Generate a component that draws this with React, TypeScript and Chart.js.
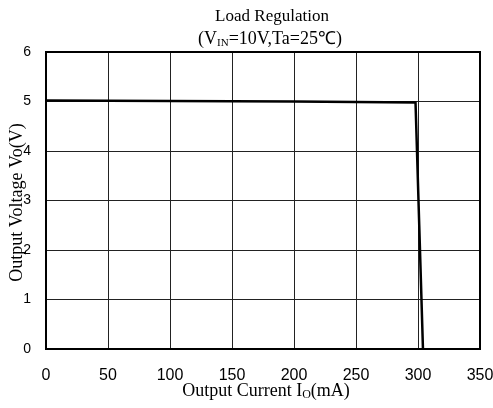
import React, { useEffect, useRef } from "react";
import { Chart, registerables } from "chart.js";

Chart.register(...registerables);

const currentMA = [0, 100, 200, 298, 301, 304];
const voltageV = [5.02, 5.01, 5.0, 4.98, 2.5, 0];
const xTicks = [0, 50, 100, 150, 200, 250, 300, 350];
const yTicks = [0, 1, 2, 3, 4, 5, 6];
const titleText = "Load Regulation";
const xTitle = "Output Current I";
const yTitle = "Output Voltage Vo(V)";

const SERIF = "'Liberation Serif'";

const textPlugin = {
  id: "texts",
  afterDraw(chart: any) {
    const ctx = chart.ctx;
    const a = chart.chartArea;
    const cx = (a.left + a.right) / 2;
    ctx.save();
    ctx.fillStyle = "#000";
    ctx.textBaseline = "middle";
    ctx.font = `17px ${SERIF}`;
    ctx.textAlign = "center";
    ctx.fillText(titleText, cx + 9, 17);
    // subtitle with subscript
    const p1 = "(V";
    const sub = "IN";
    const p2 = "=10V,Ta=25\u2103)";
    ctx.font = `18px ${SERIF}`;
    const w1 = ctx.measureText(p1).width;
    const w2a = ctx.measureText(p2).width;
    ctx.font = `11px ${SERIF}`;
    const ws = ctx.measureText(sub).width;
    const total = w1 + ws + w2a;
    let x = cx + 7 - total / 2;
    ctx.textAlign = "left";
    ctx.font = `18px ${SERIF}`;
    ctx.fillText(p1, x, 39);
    x += w1;
    ctx.font = `11px ${SERIF}`;
    ctx.fillText(sub, x, 43);
    x += ws;
    ctx.font = `18px ${SERIF}`;
    ctx.fillText(p2, x, 39);
    // x title
    ctx.font = `18px ${SERIF}`;
    const xt1 = ctx.measureText(xTitle).width;
    ctx.font = `12px ${SERIF}`;
    const xs = ctx.measureText("O").width;
    ctx.font = `18px ${SERIF}`;
    const xt2 = ctx.measureText("(mA)").width;
    let xx = cx + 3 - (xt1 + xs + xt2) / 2;
    ctx.fillText(xTitle, xx, 391);
    xx += xt1;
    ctx.font = `12px ${SERIF}`;
    ctx.fillText("O", xx, 395);
    xx += xs;
    ctx.font = `18px ${SERIF}`;
    ctx.fillText("(mA)", xx, 391);
    // y title
    ctx.translate(17, (a.top + a.bottom) / 2 + 2);
    ctx.rotate(-Math.PI / 2);
    ctx.textAlign = "center";
    ctx.font = `18px ${SERIF}`;
    ctx.fillText(yTitle, 0, 0);
    ctx.restore();
  },
};

export default function App() {
  const ref = useRef<HTMLCanvasElement>(null);
  useEffect(() => {
    document.body.style.margin = "0";
    const chart = new Chart(ref.current!, {
      type: "line",
      data: {
        datasets: [
          {
            data: currentMA.map((x, i) => ({ x, y: voltageV[i] })),
            borderColor: "#000",
            borderWidth: 2.5,
            pointRadius: 0,
            fill: false,
            tension: 0,
          },
        ],
      },
      options: {
        animation: false,
        responsive: false,
        devicePixelRatio: 1,
        layout: { padding: { top: 52, right: 13, left: 0, bottom: 0 } },
        plugins: { legend: { display: false }, tooltip: { enabled: false } },
        scales: {
          x: {
            type: "linear",
            min: 0,
            max: 350,
            afterBuildTicks: (s: any) => {
              s.ticks = xTicks.map((v) => ({ value: v }));
            },
            afterFit: (s: any) => {
              s.height = 59;
              s.paddingLeft = 0;
              s.paddingRight = 0;
            },
            grid: { color: "#222", lineWidth: 1, drawTicks: false },
            border: { color: "#000", width: 2 },
            ticks: {
              color: "#000",
              padding: 17,
              maxRotation: 0,
              font: { family: "'Liberation Sans'", size: 16 },
            },
          },
          y: {
            type: "linear",
            min: 0,
            max: 6,
            afterBuildTicks: (s: any) => {
              s.ticks = yTicks.map((v) => ({ value: v }));
            },
            afterFit: (s: any) => {
              s.width = 46;
              s.paddingTop = 0;
              s.paddingBottom = 0;
            },
            grid: { color: "#222", lineWidth: 1, drawTicks: false },
            border: { color: "#000", width: 2 },
            ticks: {
              color: "#000",
              padding: 15,
              font: { family: "'Liberation Sans'", size: 14 },
            },
          },
        },
      },
      plugins: [
        textPlugin,
        {
          id: "frame",
          afterDatasetsDraw(c: any) {
            const a = c.chartArea;
            const ctx = c.ctx;
            ctx.save();
            ctx.strokeStyle = "#000";
            ctx.lineWidth = 2;
            ctx.strokeRect(a.left, a.top, a.right - a.left, a.bottom - a.top);
            ctx.restore();
          },
        },
      ],
    } as any);
    return () => chart.destroy();
  }, []);
  return (
    <div style={{ width: 493, height: 408, background: "#fff" }}>
      <canvas ref={ref} width={493} height={408} />
    </div>
  );
}
